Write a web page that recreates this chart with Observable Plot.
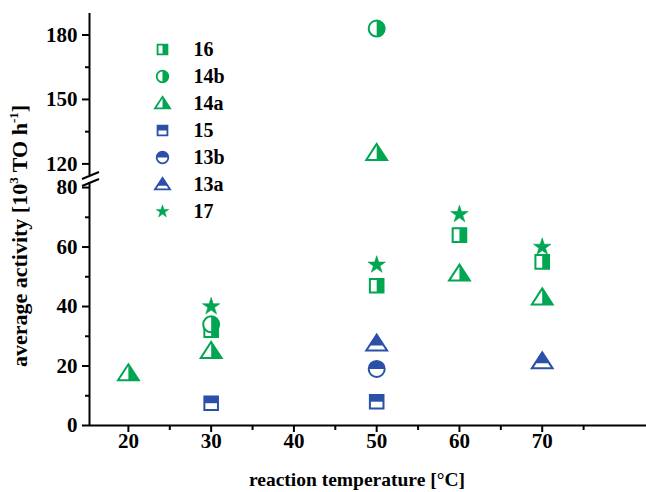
<!DOCTYPE html>
<html><head><meta charset="utf-8">
<script src="https://cdn.jsdelivr.net/npm/d3@7"></script>
<script src="https://cdn.jsdelivr.net/npm/@observablehq/plot@0.6"></script>
<style>
body{margin:0;background:#fff;}
#wrap{position:relative;width:646px;height:492px;overflow:hidden;font-family:"Liberation Serif","Times New Roman",serif;font-weight:bold;color:#000;}
#wrap > *{position:absolute;}
#ytitle{width:360px;left:-160px;top:223px;height:26px;line-height:26px;text-align:center;font-size:22px;transform:rotate(-90deg);transform-origin:50% 50%;white-space:nowrap;}
#ytitle sup{font-size:13px;vertical-align:9px;line-height:0;}
</style></head><body><div id="wrap"></div>
<script>
// ---- data ----
const seriesNames = ["16","14b","14a","15","13b","13a","17"];
const temp16  = [30, 50, 60, 70];       const act16  = [32, 47, 64, 55];
const temp14b = [30, 50];               const act14b = [34, 183];
const temp14a = [20, 30, 50, 60, 70];   const act14a = [17.5, 25, 125, 51, 43];
const temp15  = [30, 50];               const act15  = [7.5, 8];
const temp13b = [50];                   const act13b = [19];
const temp13a = [50, 70];               const act13a = [27.5, 21.5];
const temp17  = [30, 50, 60, 70];       const act17  = [40, 54, 71, 60];
const xTicks = [20, 30, 40, 50, 60, 70];
const xMinor = [25, 35, 45, 55, 65, 75];
const lowTicks = [0, 20, 40, 60, 80];
const lowMinor = [10, 30, 50, 70];
const upTicks = [120, 150, 180];
const upMinor = [135, 165];
const xLabel = "reaction temperature [°C]";

// ---- styles ----
const GREEN = "#00a651", BLUE = "#2b50a8";
const xDomain = [15.3, 82.6], lowDomain = [0, 81.7], upDomain = [114.6, 190];
const Rr = s => Math.sqrt(s / Math.PI);
const sym = {
  squareOutline:{draw(c,s){const h=Rr(s)*0.85;c.rect(-h,-h,2*h,2*h);}},
  squareRight:{draw(c,s){const h=Rr(s)*0.85;c.rect(0,-h,h,2*h);}},
  squareTop:{draw(c,s){const h=Rr(s)*0.85;c.rect(-h,-h,2*h,h);}},
  circleOutline:{draw(c,s){const r=Rr(s);c.moveTo(r,0);c.arc(0,0,r,0,2*Math.PI);c.closePath();}},
  circleRight:{draw(c,s){const r=Rr(s);c.moveTo(0,-r);c.arc(0,0,r,-Math.PI/2,Math.PI/2);c.closePath();}},
  circleTop:{draw(c,s){const r=Rr(s);c.moveTo(-r,0);c.arc(0,0,r,Math.PI,2*Math.PI);c.closePath();}},
  triOutline:{draw(c,s){const r=Rr(s),w=r*1.3,t=-r*1.15,b=r*0.85;c.moveTo(0,t);c.lineTo(w,b);c.lineTo(-w,b);c.closePath();}},
  triRight:{draw(c,s){const r=Rr(s),w=r*1.3,t=-r*1.15,b=r*0.85;c.moveTo(0,t);c.lineTo(w,b);c.lineTo(0,b);c.closePath();}},
  triTop:{draw(c,s){const r=Rr(s),w=r*1.3,t=-r*1.15,b=r*0.85,k=0.68,yl=t+(b-t)*k,xl=w*k;c.moveTo(0,t);c.lineTo(xl,yl);c.lineTo(-xl,yl);c.closePath();}},
  star:{draw(c,s){d3.symbolStar.draw(c,s*0.47);}}
};
const cfg = {
  "16": {x:temp16, y:act16, color:GREEN, outline:sym.squareOutline, half:sym.squareRight},
  "14b":{x:temp14b,y:act14b,color:GREEN, outline:sym.circleOutline, half:sym.circleRight},
  "14a":{x:temp14a,y:act14a,color:GREEN, outline:sym.triOutline, half:sym.triRight},
  "15": {x:temp15, y:act15, color:BLUE,  outline:sym.squareOutline, half:sym.squareTop},
  "13b":{x:temp13b,y:act13b,color:BLUE,  outline:sym.circleOutline, half:sym.circleTop},
  "13a":{x:temp13a,y:act13a,color:BLUE,  outline:sym.triOutline, half:sym.triTop},
  "17": {x:temp17, y:act17, color:GREEN, outline:null, half:sym.star}
};
const drawOrder = ["14a","16","14b","15","13b","13a","17"];
const TICK_FS = 21;

const baseStyle = {fontFamily:'"Liberation Serif","Times New Roman",serif', fontSize:"21px", fontWeight:"bold", color:"#000", background:"transparent", overflow:"visible"};

function pointMarks(keep, r){
  const marks = [];
  for (const name of drawOrder){
    const s = cfg[name];
    const rows = s.x.map((t,i)=>({t, v:s.y[i]})).filter(d=>keep(d.v));
    if (!rows.length) continue;
    if (s.outline) marks.push(Plot.dot(rows,{x:"t",y:"v",symbol:s.outline,r,fill:"white",stroke:s.color,strokeWidth:2}));
    marks.push(Plot.dot(rows,{x:"t",y:"v",symbol:s.half,r,fill:s.color,stroke:s.outline?"none":s.color,strokeWidth:0.6}));
  }
  return marks;
}

const wrap = document.getElementById("wrap");

// upper panel
const upper = Plot.plot({
  width:646, height:175, marginTop:13, marginBottom:0, marginLeft:89, marginRight:0,
  x:{domain:xDomain, axis:null, label:null},
  y:{domain:upDomain, axis:null, label:null},
  style:baseStyle,
  marks:[
    Plot.ruleX([xDomain[0]],{strokeWidth:2}),
    Plot.axisY(upTicks,{anchor:"left",tickSize:7,tickPadding:5,strokeWidth:2,label:null,fontSize:TICK_FS,fontWeight:"bold"}),
    Plot.axisY(upMinor,{anchor:"left",tickSize:4,tickFormat:()=>"",strokeWidth:2,label:null}),
    ...pointMarks(v=>v>=100, 8)
  ]
});
upper.style.left="0px"; upper.style.top="0px";
wrap.appendChild(upper);

// lower panel
const lower = Plot.plot({
  width:646, height:322, marginTop:12, marginBottom:67, marginLeft:89, marginRight:0,
  x:{domain:xDomain, axis:null, label:null},
  y:{domain:lowDomain, axis:null, label:null},
  style:baseStyle,
  marks:[
    Plot.ruleX([xDomain[0]],{strokeWidth:2}),
    Plot.ruleY([lowDomain[0]],{strokeWidth:2}),
    Plot.axisY(lowTicks,{anchor:"left",tickSize:7,tickPadding:5,strokeWidth:2,label:null,fontSize:TICK_FS,fontWeight:"bold"}),
    Plot.axisY(lowMinor,{anchor:"left",tickSize:4,tickFormat:()=>"",strokeWidth:2,label:null}),
    Plot.axisX(xTicks,{anchor:"bottom",tickSize:7,tickPadding:1,strokeWidth:2,label:null,fontSize:TICK_FS,fontWeight:"bold"}),
    Plot.axisX(xMinor,{anchor:"bottom",tickSize:5,tickFormat:()=>"",strokeWidth:2,label:null}),
    Plot.text([xLabel],{frameAnchor:"bottom",dy:54,dx:-11,lineAnchor:"middle",textAnchor:"middle",fontSize:19.5,fontWeight:"bold"}),
    ...pointMarks(v=>v<100, 8)
  ]
});
lower.style.left="0px"; lower.style.top="170px";
wrap.appendChild(lower);

// axis break marks (decoration)
const brk = document.createElementNS("http://www.w3.org/2000/svg","svg");
brk.setAttribute("width","646"); brk.setAttribute("height","492");
brk.style.left="0px"; brk.style.top="0px";
brk.innerHTML = '<line x1="82" y1="179" x2="99" y2="172" stroke="#000" stroke-width="2"/><line x1="82" y1="186" x2="99" y2="179" stroke="#000" stroke-width="2"/>';
wrap.appendChild(brk);

// legend
const legMarks = [];
for (const name of seriesNames){
  const s = cfg[name];
  if (s.outline) legMarks.push(Plot.dot([name],{y:d=>d,frameAnchor:"left",dx:22,symbol:s.outline,r:5.8,fill:"white",stroke:s.color,strokeWidth:1.8}));
  legMarks.push(Plot.dot([name],{y:d=>d,frameAnchor:"left",dx:22,symbol:s.half,r:5.8,fill:s.color,stroke:s.outline?"none":s.color,strokeWidth:0.5}));
}
legMarks.push(Plot.text(seriesNames,{y:d=>d,frameAnchor:"left",dx:53,textAnchor:"start",lineAnchor:"middle",fontSize:20,fontWeight:"bold"}));
const legend = Plot.plot({
  width:110, height:192, margin:0,
  y:{type:"point", domain:seriesNames, range:[14,178], padding:0, axis:null, label:null},
  style:baseStyle,
  marks:legMarks
});
legend.style.left="140px"; legend.style.top="34px";
wrap.appendChild(legend);

// y title
const yt = document.createElement("div");
yt.id = "ytitle";
yt.innerHTML = 'average activity [10<sup>3</sup> TO h<sup>-1</sup>]';
wrap.appendChild(yt);
</script></body></html>
